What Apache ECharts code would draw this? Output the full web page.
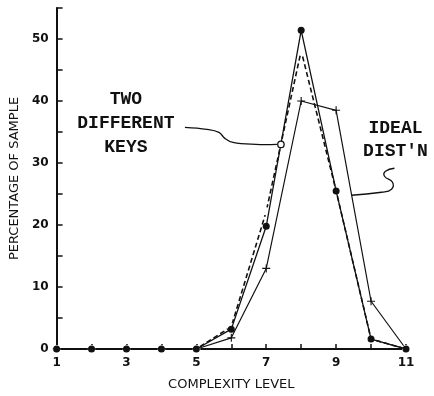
<!DOCTYPE html>
<html>
<head>
<meta charset="utf-8">
<script src="https://cdn.jsdelivr.net/npm/echarts@6/dist/echarts.min.js"></script>
<style>
html,body{margin:0;padding:0;background:#fff;}
#main{width:434px;height:396px;}
</style>
</head>
<body>
<div id="main"></div>
<script>
// Complexity levels (x)
var levels = [1, 2, 3, 4, 5, 6, 7, 8, 9, 10, 11];
// Key A (solid line, filled dots)
var keyA = [0, 0, 0, 0, 0, 3.2, 19.8, 51.4, 25.5, 1.6, 0];
// Key B (dashed line, open circles)
var keyB = [0, 0, 0, 0, 0, 3.6, 22.2, 48.1, 25.5, 1.6, 0];
// Ideal distribution (solid line, + marks)
var ideal = [0, 0, 0, 0, 0, 1.8, 13, 40, 38.5, 7.7, 0];
// Tick labels
var xTickLabels = ['1', '3', '5', '7', '9', '11'];
var yTickLabels = ['0', '10', '20', '30', '40', '50'];
// Annotation texts
var noteKeys = ['TWO', 'DIFFERENT', 'KEYS'];
var noteIdeal = ['IDEAL', "DIST'N"];

function pairs(vals) {
  return levels.map(function (x, i) { return [x, vals[i]]; });
}

var ink = '#111';
var plus = 'path://M4.3,0H5.7V4.3H10V5.7H5.7V10H4.3V5.7H0V4.3H4.3Z';

var chart = echarts.init(document.getElementById('main'));
var option = {
  backgroundColor: '#fff',
  animation: false,
  grid: { left: 53, right: 28, top: 8, bottom: 44 },
  xAxis: {
    type: 'value', min: 1, max: 11, interval: 1,
    name: 'COMPLEXITY LEVEL', nameLocation: 'middle', nameGap: 29,
    nameTextStyle: { fontFamily: 'DejaVu Sans', fontSize: 13, color: ink },
    axisLine: { lineStyle: { color: ink, width: 2 } },
    axisTick: { inside: true, length: 5, lineStyle: { color: ink, width: 1.5 } },
    axisLabel: {
      margin: 8, fontFamily: 'DejaVu Sans', fontWeight: 'bold', fontSize: 12, color: ink,
      formatter: function (v) { var s = String(v); return xTickLabels.indexOf(s) >= 0 ? s : ''; }
    },
    splitLine: { show: false }
  },
  yAxis: {
    type: 'value', min: 0, max: 55, interval: 5,
    name: 'PERCENTAGE OF SAMPLE', nameLocation: 'middle', nameGap: 33, nameRotate: 90,
    nameTextStyle: { fontFamily: 'DejaVu Sans', fontSize: 13, color: ink },
    axisLine: { show: true, lineStyle: { color: ink, width: 2 } },
    axisTick: { show: true, inside: true, length: 6, lineStyle: { color: ink, width: 1.5 } },
    axisLabel: {
      margin: 8, fontFamily: 'DejaVu Sans', fontWeight: 'bold', fontSize: 12, color: ink,
      formatter: function (v) { var s = String(v); return yTickLabels.indexOf(s) >= 0 ? s : ''; }
    },
    splitLine: { show: false }
  },
  series: [
    {
      name: 'Ideal', type: 'line', data: pairs(ideal),
      symbol: plus, symbolSize: 8, showSymbol: true,
      lineStyle: { color: ink, width: 1.2 }, itemStyle: { color: ink }, z: 2
    },
    {
      name: 'Key B', type: 'line', data: pairs(keyB),
      symbol: 'emptyCircle', symbolSize: 6,
      lineStyle: { color: ink, width: 1.6, type: [5, 3] },
      itemStyle: { color: '#fff', borderColor: ink, borderWidth: 1.2 }, z: 3
    },
    {
      name: 'Key A', type: 'line', data: pairs(keyA),
      symbol: 'circle', symbolSize: 7,
      lineStyle: { color: ink, width: 1.3 }, itemStyle: { color: ink }, z: 4
    }
  ]
};
chart.setOption(option);

// Annotations anchored to data coordinates
var a1 = chart.convertToPixel({ gridIndex: 0 }, [7.42, 33]);   // circle on the keys' line
var a2 = chart.convertToPixel({ gridIndex: 0 }, [9.44, 24.8]); // touch point on ideal line

function rel(base, pts) { return pts.map(function (p) { return [base[0] + p[0], base[1] + p[1]]; }); }

var textStyle = { fontFamily: 'Liberation Mono', fontWeight: 'bold', fontSize: 18, fill: ink, textAlign: 'center', textVerticalAlign: 'middle' };
var g = [];
var ax = a1[0] - 155, ay = a1[1];
noteKeys.forEach(function (t, i) {
  g.push({ type: 'text', x: ax, y: ay - 45 + i * 24, style: Object.assign({ text: t }, textStyle) });
});
g.push({
  type: 'polyline', shape: { smooth: 0.4, points: rel(a1, [[-96, -17], [-74, -15], [-62, -12], [-56, -6], [-48, -2], [-25, 0], [-4, 0]]) },
  style: { stroke: ink, lineWidth: 1.3, fill: null }
});
g.push({ type: 'circle', shape: { cx: a1[0], cy: a1[1], r: 3.2 }, style: { stroke: ink, lineWidth: 1.3, fill: '#fff' }, z: 10 });

var bx = a2[0] + 44, by = a2[1];
noteIdeal.forEach(function (t, i) {
  g.push({ type: 'text', x: bx, y: by - 67 + i * 23, style: Object.assign({ text: t }, textStyle) });
});
g.push({
  type: 'polyline', shape: { smooth: 0.5, points: rel(a2, [[43, -27], [34, -24], [33, -19], [41, -13], [40, -6], [30, -3], [0, 0]]) },
  style: { stroke: ink, lineWidth: 1.3, fill: null }
});
chart.setOption({ graphic: g });
</script>
</body>
</html>
